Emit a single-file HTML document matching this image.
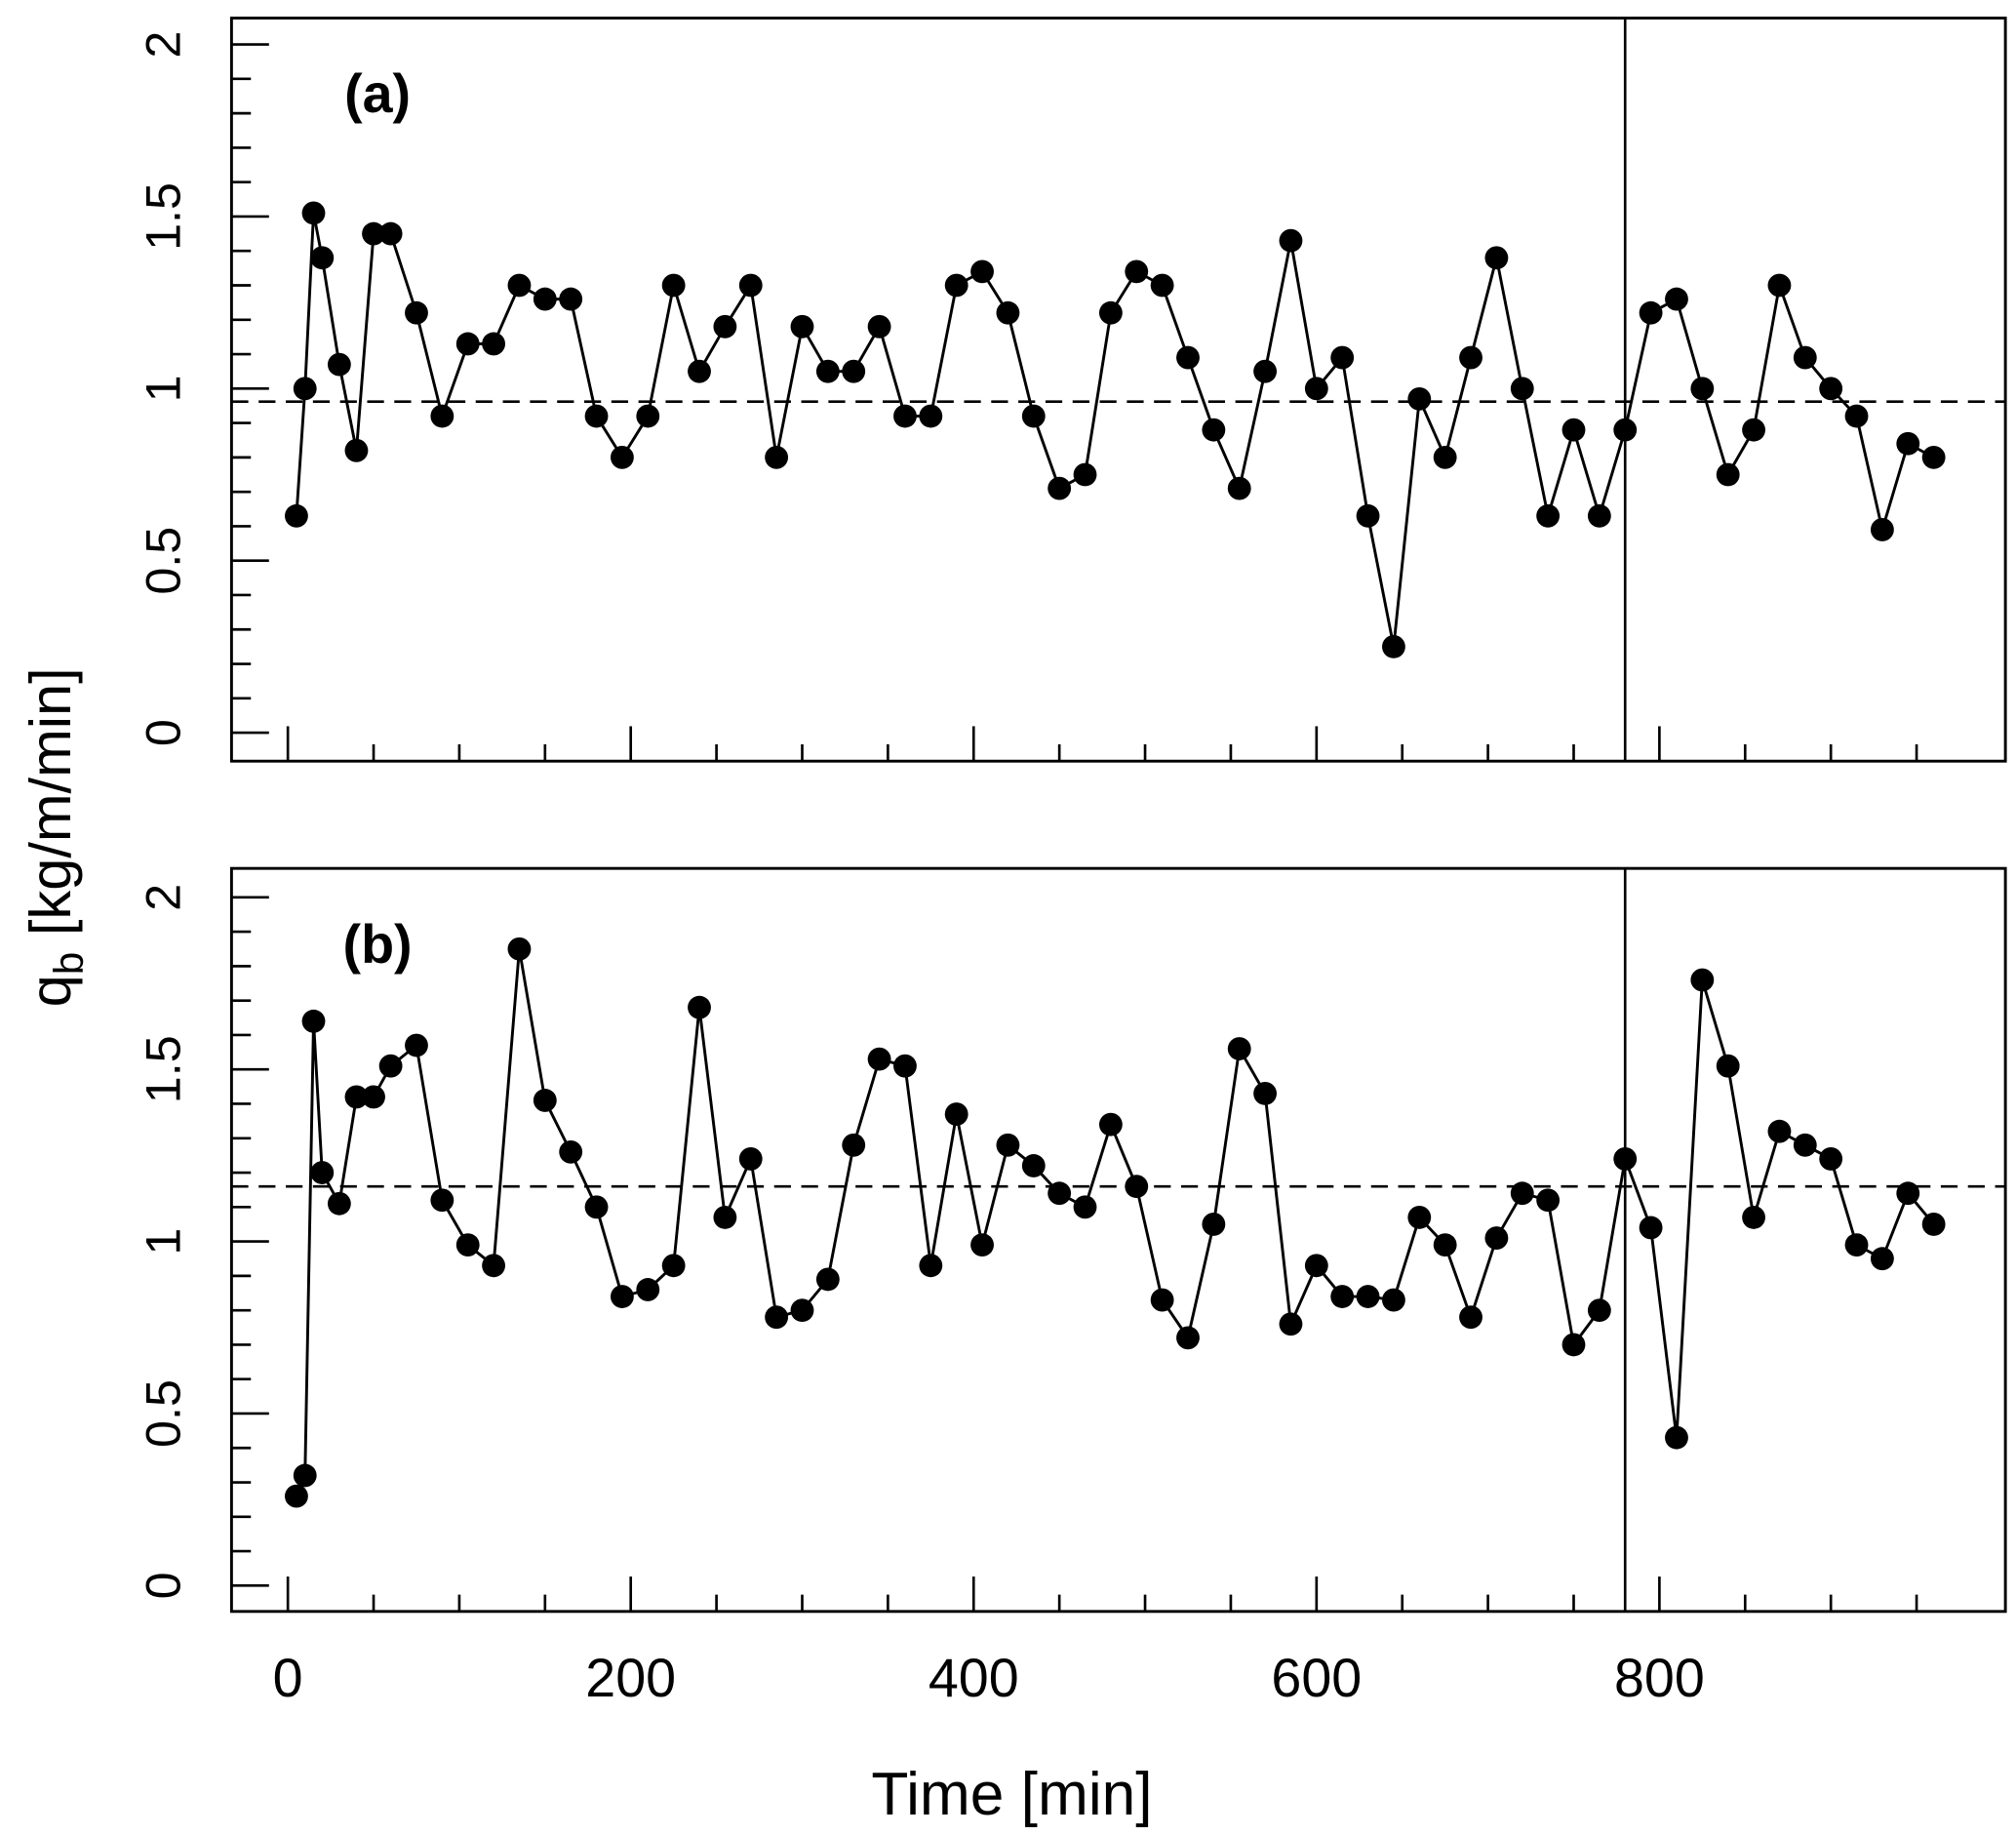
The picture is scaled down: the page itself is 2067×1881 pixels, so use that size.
<!DOCTYPE html>
<html><head><meta charset="utf-8"><style>
html,body{margin:0;padding:0;background:#fff;}
svg{display:block;}
text{font-family:"Liberation Sans",Arial,sans-serif;fill:#000;}
</style></head><body>
<svg id="chart" width="2067" height="1881" viewBox="0 0 1560 1420" xmlns="http://www.w3.org/2000/svg">
<g id="root"></g>
</svg>
<script>
const times = [5,10,15,20,30,40,50,60,75,90,105,120,135,150,165,180,195,210,225,240,255,270,285,300,315,330,345,360,375,390,405,420,435,450,465,480,495,510,525,540,555,570,585,600,615,630,645,660,675,690,705,720,735,750,765,780,795,810,825,840,855,870,885,900,915,930,945,960];
const seriesA = [0.63,1.0,1.51,1.38,1.07,0.82,1.45,1.45,1.22,0.92,1.13,1.13,1.3,1.26,1.26,0.92,0.8,0.92,1.3,1.05,1.18,1.3,0.8,1.18,1.05,1.05,1.18,0.92,0.92,1.3,1.34,1.22,0.92,0.71,0.75,1.22,1.34,1.3,1.09,0.88,0.71,1.05,1.43,1.0,1.09,0.63,0.25,0.97,0.8,1.09,1.38,1.0,0.63,0.88,0.63,0.88,1.22,1.26,1.0,0.75,0.88,1.3,1.09,1.0,0.92,0.59,0.84,0.8];
const seriesB = [0.26,0.32,1.64,1.2,1.11,1.42,1.42,1.51,1.57,1.12,0.99,0.93,1.85,1.41,1.26,1.1,0.84,0.86,0.93,1.68,1.07,1.24,0.78,0.8,0.89,1.28,1.53,1.51,0.93,1.37,0.99,1.28,1.22,1.14,1.1,1.34,1.16,0.83,0.72,1.05,1.56,1.43,0.76,0.93,0.84,0.84,0.83,1.07,0.99,0.78,1.01,1.14,1.12,0.7,0.8,1.24,1.04,0.43,1.76,1.51,1.07,1.32,1.28,1.24,0.99,0.95,1.14,1.05];
const meanA = 0.962;
const meanB = 1.16;
const verticalLineTime = 780;
const xTickLabels = [0,200,400,600,800];
const yTickLabels = [0,0.5,1,1.5,2];
const panelLabels = ['(a)','(b)'];

const NS='http://www.w3.org/2000/svg';
const root=document.getElementById('root');
function mk(tag,attrs,parent){const e=document.createElementNS(NS,tag);for(const k in attrs)e.setAttribute(k,attrs[k]);(parent||root).appendChild(e);return e;}
const X0=179,X1=1552;
function xs(t){return 222.6+t*1.327;}
const panels=[{top:14,bot:589,y0:567,data:seriesA,mean:meanA,name:'a'},{top:672,bot:1247,y0:1227,data:seriesB,mean:meanB,name:'b'}];
panels.forEach((p,pi)=>{
  const ys=v=>p.y0-v*266.3;
  const g=mk('g',{});
  
  
  const fr=mk('rect',{x:X0,y:p.top,width:X1-X0,height:p.bot-p.top,fill:'none',stroke:'#000','stroke-width':2.2},g);
  
  
  for(let i=0;i<=20;i++){const v=i/10;const maj=i%5===0;
    const t=mk('line',{x1:X0,x2:X0+(maj?29:15),y1:ys(v),y2:ys(v),stroke:'#000','stroke-width':2},g);
    
    }
  yTickLabels.forEach(v=>{const y=ys(v);
    const tx=mk('text',{x:0,y:0,'font-size':38,'text-anchor':'middle',transform:`translate(139,${y}) rotate(-90)`},g);
    tx.textContent=String(v);
    
    });
  for(let t=0;t<=950;t+=50){const maj=t%200===0;
    const l=mk('line',{x1:xs(t),x2:xs(t),y1:p.bot,y2:p.bot-(maj?27:13),stroke:'#000','stroke-width':2},g);
    
    }
  const vl=mk('line',{x1:xs(verticalLineTime),x2:xs(verticalLineTime),y1:p.top,y2:p.bot,stroke:'#000','stroke-width':2},g);
  
  
  const ml=mk('line',{x1:X0,x2:X1,y1:ys(p.mean),y2:ys(p.mean),stroke:'#000','stroke-width':2,'stroke-dasharray':'13,8'},g);
  
  
  const pts=p.data.map((v,i)=>xs(times[i])+','+ys(v)).join(' ');
  const pl=mk('polyline',{points:pts,fill:'none',stroke:'#000','stroke-width':2.2},g);
  
  
  p.data.forEach((v,i)=>{const c=mk('circle',{cx:xs(times[i]),cy:ys(v),r:9,fill:'#000'},g);
    
    });
  const lab=mk('text',{x:292,y:p.top+73,'font-size':42,'font-weight':'bold','text-anchor':'middle'},g);
  lab.textContent=panelLabels[pi];
  
  
});
xTickLabels.forEach(v=>{const t=mk('text',{x:xs(v),y:1313,'font-size':42,'text-anchor':'middle'});
  t.textContent=String(v);
  
  });
const xt=mk('text',{x:783,y:1404,'font-size':47,'text-anchor':'middle'});
xt.textContent='Time [min]';


const yt=mk('text',{x:0,y:0,'font-size':45,'text-anchor':'middle',transform:'translate(54,648) rotate(-90)'});


const s1=mk('tspan',{},yt);s1.textContent='q';
const s2=mk('tspan',{'font-size':32,dy:10},yt);s2.textContent='b';
const s3=mk('tspan',{dy:-10},yt);s3.textContent=' [kg/m/min]';
</script>
</body></html>
